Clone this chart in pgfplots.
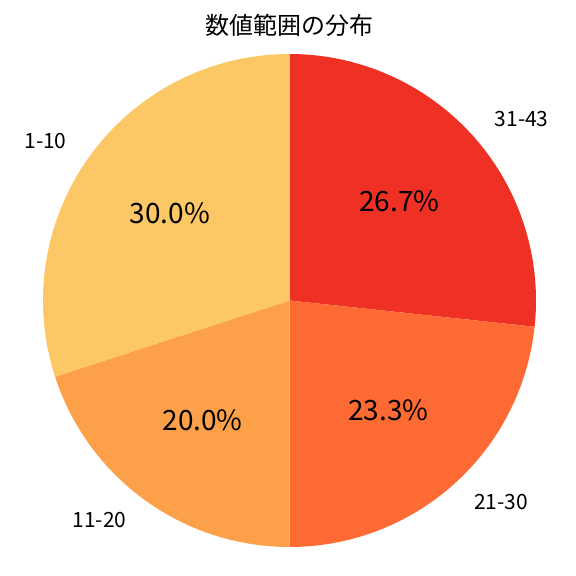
\documentclass[border=0pt]{standalone}
\usepackage{pgfplots}
\usepackage{pgfplotstable}
\pgfplotsset{compat=1.18}
\usepackage{fontspec}
\setmainfont{Noto Sans CJK JP}

\definecolor{c1}{HTML}{EE3124}
\definecolor{c2}{HTML}{FE6A33}
\definecolor{c3}{HTML}{FCA14A}
\definecolor{c4}{HTML}{FCC765}

% share of each range, clockwise from the top
\pgfplotstableread{
label pct
31-43 26.7
21-30 23.3
11-20 20.0
1-10 30.0
}\piedata

\begin{document}
\begin{tikzpicture}
% centre and radius of the pie, in pixels of the 576x576 frame
\def\cx{289.5}\def\cy{275.5}\def\rr{246.5}
\pgfplotstablegetelem{0}{pct}\of\piedata\let\pa\pgfplotsretval
\pgfplotstablegetelem{1}{pct}\of\piedata\let\pb\pgfplotsretval
\pgfplotstablegetelem{2}{pct}\of\piedata\let\pc\pgfplotsretval
\pgfplotstablegetelem{3}{pct}\of\piedata\let\pd\pgfplotsretval
\pgfmathsetmacro\aA{90}
\pgfmathsetmacro\aB{\aA-3.6*\pa}
\pgfmathsetmacro\aC{\aB-3.6*\pb}
\pgfmathsetmacro\aD{\aC-3.6*\pc}
\pgfmathsetmacro\aE{\aD-3.6*\pd}
\pgfmathsetmacro\mA{(\aA+\aB)/2}
\pgfmathsetmacro\mB{(\aB+\aC)/2}
\pgfmathsetmacro\mC{(\aC+\aD)/2}
\pgfmathsetmacro\mD{(\aD+\aE)/2}
\begin{axis}[
    width=576pt, height=576pt, scale only axis,
    hide axis, clip=false,
    xmin=0, xmax=576, ymin=0, ymax=576,
    every node/.style={inner sep=0pt},
]
\path (axis cs:0,0) rectangle (axis cs:576,576);

\addplot[draw=none, fill=c1, domain=\aB:\aA, samples=120]
    ({\cx+\rr*cos(x)}, {\cy+\rr*sin(x)}) -- (axis cs:\cx,\cy) -- cycle;
\addplot[draw=none, fill=c2, domain=\aC:\aB, samples=120]
    ({\cx+\rr*cos(x)}, {\cy+\rr*sin(x)}) -- (axis cs:\cx,\cy) -- cycle;
\addplot[draw=none, fill=c3, domain=\aD:\aC, samples=120]
    ({\cx+\rr*cos(x)}, {\cy+\rr*sin(x)}) -- (axis cs:\cx,\cy) -- cycle;
\addplot[draw=none, fill=c4, domain=\aE:\aD, samples=120]
    ({\cx+\rr*cos(x)}, {\cy+\rr*sin(x)}) -- (axis cs:\cx,\cy) -- cycle;

% range labels
\node[anchor=west, font=\fontsize{21}{25}\selectfont]
    at (axis cs:{\cx+1.1*\rr*cos(\mA)},{\cy+1.1*\rr*sin(\mA)}) {31-43};
\node[anchor=west, font=\fontsize{21}{25}\selectfont]
    at (axis cs:{\cx+1.1*\rr*cos(\mB)},{\cy+1.1*\rr*sin(\mB)}) {21-30};
\node[anchor=east, font=\fontsize{21}{25}\selectfont]
    at (axis cs:{\cx+1.1*\rr*cos(\mC)},{\cy+1.1*\rr*sin(\mC)}) {11-20};
\node[anchor=east, font=\fontsize{21}{25}\selectfont]
    at (axis cs:{\cx+1.1*\rr*cos(\mD)},{\cy+1.1*\rr*sin(\mD)}) {1-10};

% percentages
\node[font=\fontsize{28}{33}\selectfont]
    at (axis cs:{\cx+0.6*\rr*cos(\mA)},{\cy+0.6*\rr*sin(\mA)}) {26.7\%};
\node[font=\fontsize{28}{33}\selectfont]
    at (axis cs:{\cx+0.6*\rr*cos(\mB)},{\cy+0.6*\rr*sin(\mB)}) {23.3\%};
\node[font=\fontsize{28}{33}\selectfont]
    at (axis cs:{\cx+0.6*\rr*cos(\mC)},{\cy+0.6*\rr*sin(\mC)}) {20.0\%};
\node[font=\fontsize{28}{33}\selectfont]
    at (axis cs:{\cx+0.6*\rr*cos(\mD)},{\cy+0.6*\rr*sin(\mD)}) {30.0\%};

\node[font=\fontsize{24}{28}\selectfont] at (axis cs:289.5,551) {数値範囲の分布};
\end{axis}
\end{tikzpicture}
\end{document}
